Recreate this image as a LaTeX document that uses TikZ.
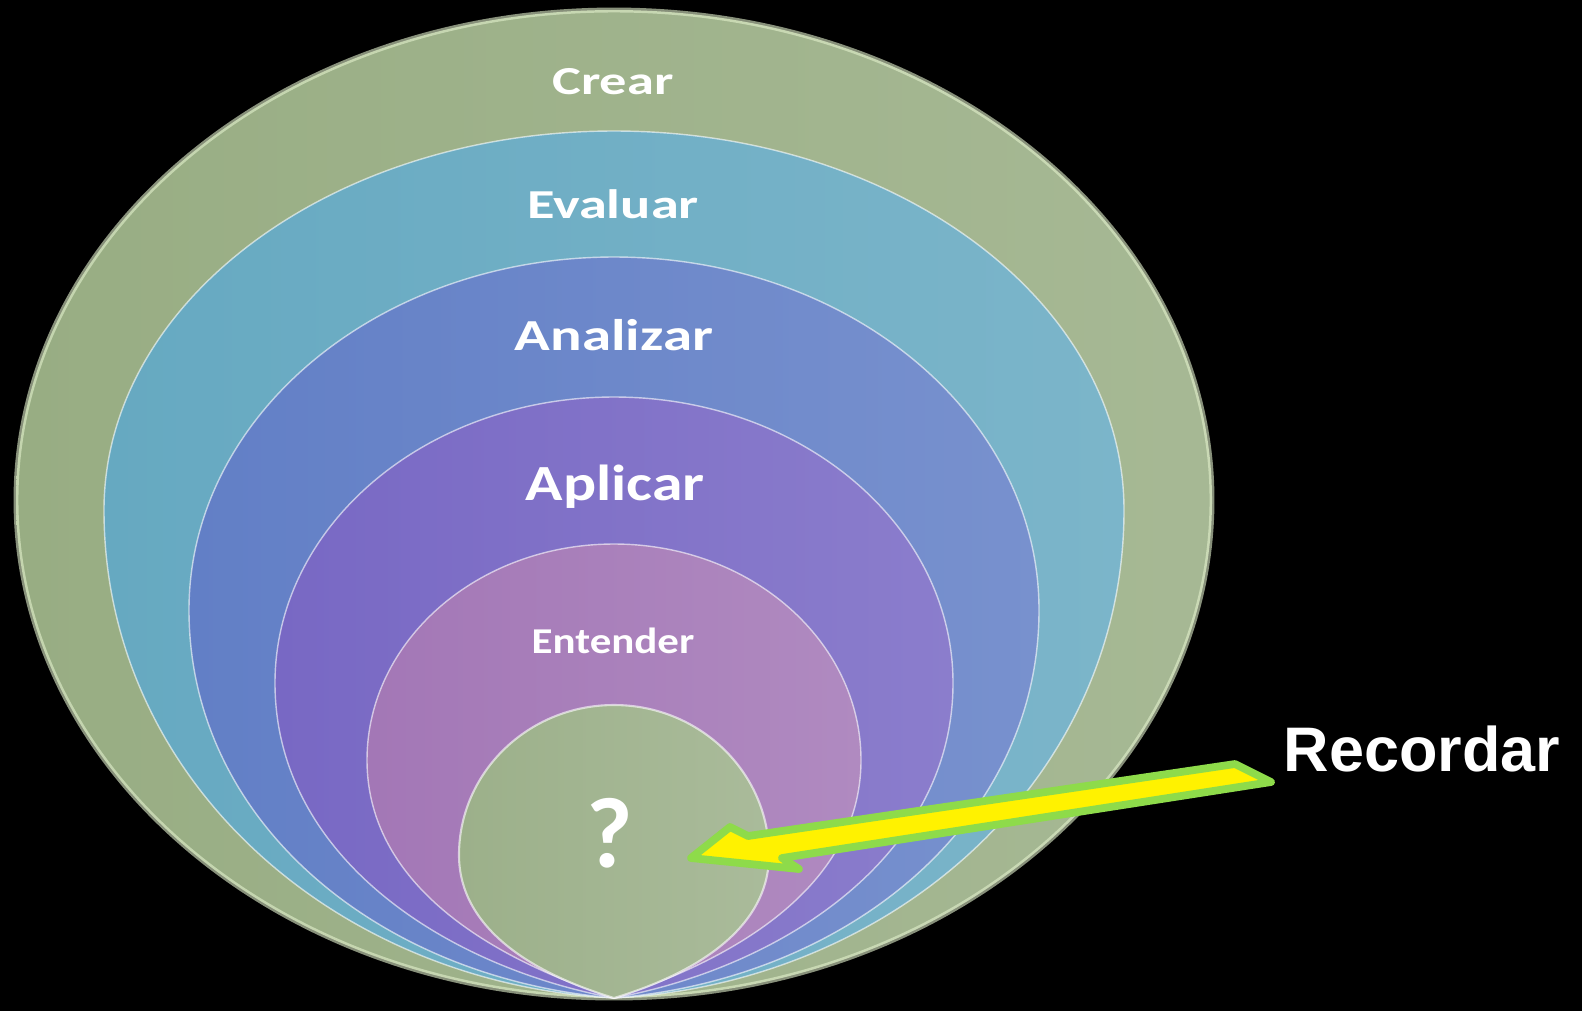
\documentclass[tikz,border=0pt]{standalone}
\usepackage{fontspec}
\usepackage{graphicx}
\usepackage{tikz}
\usetikzlibrary{calc}
\newfontfamily\calib{Carlito}
\newfontfamily\arialb{Liberation Sans}
\definecolor{crearc}{HTML}{98AD83}
\definecolor{evaluarc}{HTML}{66A9C1}
\definecolor{analizarc}{HTML}{627FC6}
\definecolor{aplicarc}{HTML}{7868C4}
\definecolor{entenderc}{HTML}{A377B6}
\definecolor{recordarc}{HTML}{9CB08A}
\definecolor{arrowgreen}{HTML}{8EDB4A}
\definecolor{rimc}{HTML}{E2F0CC}
\tikzset{
	layer/.style={draw opacity=0.6},
	lbl/.style={text=white, anchor=base, inner sep=0pt},
}

\begin{document}
\begin{tikzpicture}[x=0.01cm,y=-0.01cm]
	\fill[black] (0,0) rectangle (1582,1011);
	\coordinate (bottom) at (614,998);
	\foreach \cy/\rx/\ry/\p/\q/\s/\col/\rim/\lw in {500/598/490/0.55/0.55/0/crearc/rimc/1.4pt,
			510/510/379/0.55/0.55/0.03/evaluarc/white/0.4pt,
			610/425/353/0.55/0.55/0.05/analizarc/white/0.4pt,
			683/339/286/0.55/0.5/0.1/aplicarc/white/0.4pt,
			760/247/216/0.55/0.45/0.15/entenderc/white/0.4pt,
			855/155/150/0.5/0.55/0.18/recordarc/white/0.6pt}
		\path[layer, left color=\col, right color=\col!86!white, draw=\rim, line width=\lw] (bottom)
			.. controls ({614-\q*\rx},{998-\s*(998-\cy)}) and ({614-\rx},{\cy+\p*(998-\cy)}) .. ({614-\rx},\cy)
			.. controls ({614-\rx},{\cy-0.552*\ry}) and ({614-0.552*\rx},{\cy-\ry}) .. (614,{\cy-\ry})
			.. controls ({614+0.552*\rx},{\cy-\ry}) and ({614+\rx},{\cy-0.552*\ry}) .. ({614+\rx},\cy)
			.. controls ({614+\rx},{\cy+\p*(998-\cy)}) and ({614+\q*\rx},{998-\s*(998-\cy)}) .. (bottom) -- cycle;
	\node[lbl, font={\calib\bfseries\fontsize{11.3pt}{13pt}\selectfont}] (crear) at (613,94.5) {\scalebox{1.37}[1]{Crear}};
	\node[lbl, font={\calib\bfseries\fontsize{11.7pt}{13pt}\selectfont}] (evaluar) at (613,218) {\scalebox{1.37}[1]{Evaluar}};
	\node[lbl, font={\calib\bfseries\fontsize{12.6pt}{14pt}\selectfont}] (analizar) at (614,350) {\scalebox{1.33}[1]{Analizar}};
	\node[lbl, font={\calib\bfseries\fontsize{14.4pt}{16pt}\selectfont}] (aplicar) at (615,500) {\scalebox{1.22}[1]{Aplicar}};
	\node[lbl, font={\calib\bfseries\fontsize{10.35pt}{12pt}\selectfont}] (entender) at (613,653.5) {\scalebox{1.18}[1]{Entender}};
	\node[lbl, font={\calib\bfseries\fontsize{28.5pt}{30pt}\selectfont}] (q) at (610,867) {?};
	\node[lbl, font={\arialb\bfseries\fontsize{17.9pt}{20pt}\selectfont}] (recordar) at (1422,771.5) {Recordar};
	\coordinate (a1) at (691,858);
	\coordinate (a2) at (730,827);
	\coordinate (a3) at (748,836);
	\coordinate (a4) at (1235,764);
	\coordinate (a5) at (1271,782);
	\coordinate (a6) at (782,858);
	\coordinate (a7) at (799,869);
	\filldraw[fill=yellow, draw=arrowgreen, line width=2.2pt, line join=round] (a1) -- (a2) -- (a3) -- (a4) -- (a5) -- (a6) -- (a7) -- cycle;
\end{tikzpicture}
\end{document}
